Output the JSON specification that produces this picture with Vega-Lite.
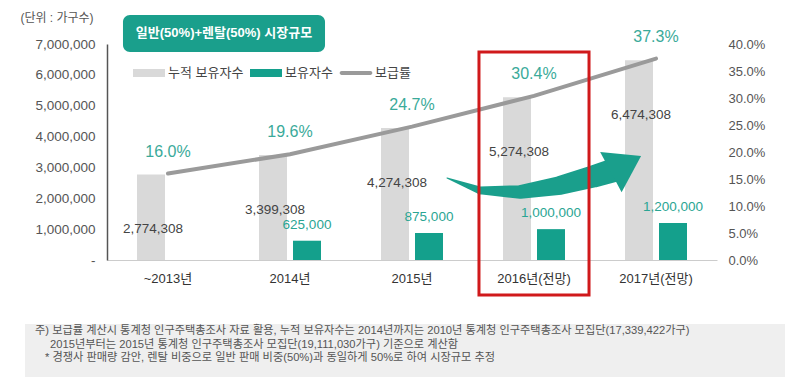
{
  "$schema": "https://vega.github.io/schema/vega-lite/v6.json",
  "width": 610,
  "height": 216,
  "autosize": {"type": "none"},
  "padding": {"left": 107, "top": 44, "right": 83, "bottom": 120},
  "background": "white",
  "config": {
    "view": {"stroke": null},
    "font": "Liberation Sans, Noto Sans CJK KR, sans-serif",
    "text": {"font": "Liberation Sans, Noto Sans CJK KR, sans-serif"},
    "axisLeft": {"title": null, "ticks": false, "grid": false, "labelPadding": 12, "labelFontSize": 13.5, "labelColor": "#555", "domainColor": "#555", "domainWidth": 1.5, "labelOverlap": false}
  },
  "datasets": {
    "main": [
      {"year": "~2013년", "cum": 2774308, "holders": null, "rate": 0.16},
      {"year": "2014년", "cum": 3399308, "holders": 625000, "rate": 0.196},
      {"year": "2015년", "cum": 4274308, "holders": 875000, "rate": 0.247},
      {"year": "2016년(전망)", "cum": 5274308, "holders": 1000000, "rate": 0.304},
      {"year": "2017년(전망)", "cum": 6474308, "holders": 1200000, "rate": 0.373}
    ]
  },
  "layer": [
    {
      "data": {"name": "main"},
      "encoding": {
        "x": {
          "field": "year", "type": "nominal", "sort": null,
          "scale": {"paddingInner": 0, "paddingOuter": 0},
          "axis": {"title": null, "ticks": false, "labelPadding": 12, "labelFontSize": 13, "labelColor": "#333", "domainColor": "#cccccc", "labelAngle": 0, "grid": false}
        }
      },
      "layer": [
        {
          "mark": {"type": "bar", "width": 28, "xOffset": -17},
          "encoding": {
            "y": {
              "field": "cum", "type": "quantitative",
              "scale": {"domain": [0, 7000000], "nice": false},
              "axis": {"title": null, "orient": "left", "values": [0, 1000000, 2000000, 3000000, 4000000, 5000000, 6000000, 7000000], "labelExpr": "datum.value == 0 ? '-' : format(datum.value, ',')"}
            },
            "color": {
              "datum": "누적 보유자수",
              "scale": {"domain": ["누적 보유자수", "보유자수", "보급률"], "range": ["#d9d9d9", "#14a08c", "#9a9a9a"]},
              "legend": {
                "orient": "none", "legendX": 26, "legendY": 13, "direction": "horizontal", "title": null,
                "labelFontSize": 13, "labelColor": "#444", "labelOffset": 3, "columnPadding": 6, "padding": 0,
                "symbolSize": 1024, "symbolStrokeWidth": 0, "symbolOpacity": 1,
                "symbolType": "M-1,-0.25H1V0.25H-1Z",
                "encode": {"symbols": {"update": {"shape": {"signal": "datum.value === '보급률' ? 'M-0.9,-0.12H0.9A0.12,0.12,0,0,1,0.9,0.12H-0.9A0.12,0.12,0,0,1,-0.9,-0.12Z' : 'M-1,-0.25H1V0.25H-1Z'"}}}}
              }
            }
          }
        },
        {
          "transform": [{"filter": "datum.holders != null"}],
          "mark": {"type": "bar", "width": 28, "xOffset": 17},
          "encoding": {
            "y": {"field": "holders", "type": "quantitative", "axis": {"title": null, "orient": "left", "values": [0, 1000000, 2000000, 3000000, 4000000, 5000000, 6000000, 7000000], "labelExpr": "datum.value == 0 ? '-' : format(datum.value, ',')"}},
            "color": {"datum": "보유자수"}
          }
        },
        {
          "mark": {"type": "text", "dx": -15, "dy": 55, "fontSize": 13.5, "color": "#444"},
          "encoding": {
            "y": {"field": "cum", "type": "quantitative", "axis": {"title": null, "orient": "left", "values": [0, 1000000, 2000000, 3000000, 4000000, 5000000, 6000000, 7000000], "labelExpr": "datum.value == 0 ? '-' : format(datum.value, ',')"}},
            "text": {"field": "cum", "type": "quantitative", "format": ","}
          }
        },
        {
          "transform": [{"filter": "datum.holders != null"}],
          "mark": {"type": "text", "dx": 17, "dy": -16, "fontSize": 13.5, "color": "#2aa593"},
          "encoding": {
            "y": {"field": "holders", "type": "quantitative", "axis": {"title": null, "orient": "left", "values": [0, 1000000, 2000000, 3000000, 4000000, 5000000, 6000000, 7000000], "labelExpr": "datum.value == 0 ? '-' : format(datum.value, ',')"}},
            "text": {"field": "holders", "type": "quantitative", "format": ","}
          }
        }
      ]
    },
    {
      "data": {"name": "main"},
      "encoding": {
        "x": {"field": "year", "type": "nominal", "sort": null, "scale": {"paddingInner": 0, "paddingOuter": 0}, "axis": null},
        "y": {
          "field": "rate", "type": "quantitative",
          "scale": {"domain": [0, 0.4], "nice": false},
          "axis": {"title": null, "orient": "right", "values": [0, 0.05, 0.1, 0.15, 0.2, 0.25, 0.3, 0.35, 0.4], "format": ".1%", "ticks": false, "domain": false, "grid": false, "labelPadding": 11, "labelFontSize": 13, "labelColor": "#555"}
        }
      },
      "layer": [
        {
          "mark": {"type": "line", "strokeWidth": 4, "strokeCap": "round"},
          "encoding": {"color": {"datum": "보급률"}}
        },
        {
          "mark": {"type": "text", "dy": -22, "fontSize": 16, "color": "#3aaa9a"},
          "encoding": {"text": {"field": "rate", "type": "quantitative", "format": ".1%"}}
        }
      ]
    },
    {
      "layer": [
        {
          "data": {"values": [{"x": 0.131, "x2": 1.787, "y": 38.52, "y2": 45.37}]},
          "mark": {"type": "rect", "color": "#1a9f8c", "cornerRadius": 7},
          "encoding": {
            "x": {"field": "x", "type": "quantitative", "scale": {"domain": [0, 5], "nice": false, "zero": false}, "axis": null},
            "x2": {"field": "x2"},
            "y": {"field": "y", "type": "quantitative", "scale": {"domain": [0, 40], "nice": false, "zero": false}, "axis": null},
            "y2": {"field": "y2"}
          }
        },
        {
          "data": {"values": [{"x": 0.959, "y": 42.0, "label": "일반(50%)+렌탈(50%) 시장규모"}]},
          "mark": {"type": "text", "color": "white", "fontSize": 13, "fontWeight": "bold"},
          "encoding": {
            "x": {"field": "x", "type": "quantitative"},
            "y": {"field": "y", "type": "quantitative"},
            "text": {"field": "label"}
          }
        },
        {
          "data": {"values": [{"x": -0.41, "y": 44.8, "label": "(단위 : 가구수)"}]},
          "mark": {"type": "text", "color": "#555", "fontSize": 12},
          "encoding": {
            "x": {"field": "x", "type": "quantitative"},
            "y": {"field": "y", "type": "quantitative"},
            "text": {"field": "label"}
          }
        },
        {
          "data": {"values": [
            {"x": 2.787, "y": 15.19, "t": 0},
            {"x": 3.057, "y": 12.9, "t": 0.3},
            {"x": 3.385, "y": 12.6, "t": 0.55},
            {"x": 3.713, "y": 13.8, "t": 0.78},
            {"x": 4.0, "y": 15.56, "t": 0.93},
            {"x": 4.15, "y": 16.6, "t": 1}
          ]},
          "mark": {"type": "trail", "color": "#1a9f8c"},
          "encoding": {
            "x": {"field": "x", "type": "quantitative"},
            "y": {"field": "y", "type": "quantitative"},
            "order": {"field": "t"},
            "size": {"field": "t", "type": "quantitative", "scale": {"domain": [0, 1], "range": [1, 24]}, "legend": null}
          }
        },
        {
          "data": {"values": [{"x": 4.254, "y": 17.78}]},
          "mark": {"type": "point", "filled": true, "opacity": 1, "color": "#1a9f8c", "shape": "M-0.75,-1L0.75,0L-0.75,1Z", "size": 2079, "angle": 332, "strokeWidth": 0},
          "encoding": {
            "x": {"field": "x", "type": "quantitative"},
            "y": {"field": "y", "type": "quantitative"}
          }
        },
        {
          "data": {"values": [{"x": 3.049, "x2": 3.951, "y": 38.52, "y2": -6.48}]},
          "mark": {"type": "rect", "fill": null, "fillOpacity": 0, "stroke": "#d0191b", "strokeWidth": 3},
          "encoding": {
            "x": {"field": "x", "type": "quantitative"},
            "x2": {"field": "x2"},
            "y": {"field": "y", "type": "quantitative"},
            "y2": {"field": "y2"}
          }
        },
        {
          "data": {"values": [{"x": -0.672, "x2": 5.557, "y": -11.85, "y2": -21.67}]},
          "mark": {"type": "rect", "color": "#efefef"},
          "encoding": {
            "x": {"field": "x", "type": "quantitative"},
            "x2": {"field": "x2"},
            "y": {"field": "y", "type": "quantitative"},
            "y2": {"field": "y2"}
          }
        },
        {
          "data": {"values": [
            {"x": -0.59, "y": -13.15, "label": "주) 보급률 계산시 통계청 인구주택총조사 자료 활용, 누적 보유자수는  2014년까지는 2010년 통계청 인구주택총조사 모집단(17,339,422가구)"},
            {"x": -0.467, "y": -15.74, "label": "2015년부터는 2015년 통계청 인구주택총조사 모집단(19,111,030가구) 기준으로 계산함"},
            {"x": -0.508, "y": -18.15, "label": "* 경쟁사 판매량 감안, 렌탈 비중으로 일반 판매 비중(50%)과 동일하게 50%로 하여 시장규모 추정"}
          ]},
          "mark": {"type": "text", "align": "left", "color": "#555", "fontSize": 11.2},
          "encoding": {
            "x": {"field": "x", "type": "quantitative"},
            "y": {"field": "y", "type": "quantitative"},
            "text": {"field": "label"}
          }
        }
      ]
    }
  ],
  "resolve": {"scale": {"x": "independent", "y": "independent"}}
}
